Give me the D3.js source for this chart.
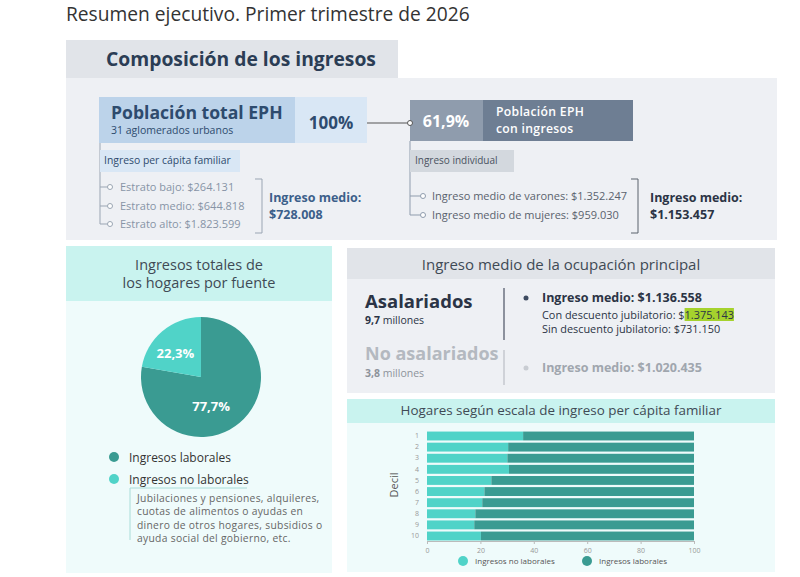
<!DOCTYPE html>
<html>
<head>
<meta charset="utf-8">
<script src="https://cdn.jsdelivr.net/npm/d3@7"></script>
<style>
  body { margin: 0; background: #fff; }
  text { font-family: "Open Sans", sans-serif; }
</style>
</head>
<body>
<svg id="chart" width="800" height="577"></svg>
<script>
// datos
var fuentes = ["Ingresos laborales", "Ingresos no laborales"];
var fuentePct = [77.7, 22.3];
var deciles = ["1", "2", "3", "4", "5", "6", "7", "8", "9", "10"];
var noLaborales = [36.0, 30.4, 30.1, 30.7, 24.1, 21.5, 20.7, 18.1, 17.7, 20.2];
var laborales = [64.0, 69.6, 69.9, 69.3, 75.9, 78.5, 79.3, 81.9, 82.3, 79.8];
var xTicks = [0, 20, 40, 60, 80, 100];
var estratos = ["Estrato bajo: $264.131", "Estrato medio: $644.818", "Estrato alto: $1.823.599"];
var individuales = ["Ingreso medio de varones: $1.352.247", "Ingreso medio de mujeres: $959.030"];
var notaNoLaborales = ["Jubilaciones y pensiones, alquileres,", "cuotas de alimentos o ayudas en",
  "dinero de otros hogares,  subsidios o", "ayuda social del gobierno, etc."];

var dark = "#3a9b92", light = "#50d3c8";

var svg = d3.select("#chart");

function box(x, y, w, h, fill) {
  return svg.append("rect").attr("x", x).attr("y", y).attr("width", w).attr("height", h).attr("fill", fill);
}
function label(x, y, txt, size, color, weight, anchor) {
  return svg.append("text").attr("x", x).attr("y", y).text(txt)
    .attr("font-size", size).attr("fill", color)
    .attr("font-weight", weight || 400)
    .attr("text-anchor", anchor || "start");
}
function line(x1, y1, x2, y2, color, w) {
  return svg.append("line").attr("x1", x1).attr("y1", y1).attr("x2", x2).attr("y2", y2)
    .attr("stroke", color).attr("stroke-width", w || 1);
}
function dot(x, y, color) {
  return svg.append("circle").attr("cx", x).attr("cy", y).attr("r", 2.5)
    .attr("fill", "#fff").attr("stroke", color).attr("stroke-width", 1);
}
function bracket(x, y1, y2, color) {
  svg.append("path").attr("d", `M${x - 7},${y1}H${x}V${y2}H${x - 7}`)
    .attr("fill", "none").attr("stroke", color).attr("stroke-width", 1);
}

// titulo
label(66, 21, "Resumen ejecutivo. Primer trimestre de 2026", 19.2, "#333", 400);

// --- Composicion de los ingresos
box(66, 78, 711, 162, "#eef0f4");
box(66, 40, 332, 38, "#e1e4e9");
label(241, 66, "Composición de los ingresos", 19.3, "#2b3d55", 700, "middle");

box(99, 97, 196, 46, "#bcd3ea");
box(295, 97, 72, 46, "#d9e7f5");
label(111, 119, "Población total EPH", 17.6, "#2e4b6e", 700);
label(111, 134, "31 aglomerados urbanos", 10.5, "#2e4b6e", 400);
label(331, 129, "100%", 17, "#2e4b6e", 700, "middle");

line(367, 123, 407, 123, "#555");

line(100, 143, 100, 224, "#9aa5b3");
box(100, 150, 140, 22, "#d9e7f5");
label(104, 164, "Ingreso per cápita familiar", 10.4, "#2e4b6e", 400);
var estY = [187, 206, 224];
estratos.forEach(function(t, i) {
  line(100, estY[i], 107.5, estY[i], "#9aa5b3");
  dot(110, estY[i], "#9aa5b3");
  label(120, estY[i] + 4, t, 11, "#8794a6", 400);
});
bracket(262, 179, 233, "#9aa5b3");
label(269, 202, "Ingreso medio:", 12.5, "#3c5f8a", 700);
label(269, 219, "$728.008", 12.5, "#3c5f8a", 700);

box(410, 100, 73, 41, "#8f9cad");
box(483, 100, 150, 41, "#6e7e93");
dot(410, 123, "#555");
label(446, 127, "61,9%", 16, "#fff", 700, "middle");
label(496, 116, "Población EPH", 12.2, "#fff", 600).attr("letter-spacing", 0.3);
label(496, 132.5, "con ingresos", 12.2, "#fff", 600).attr("letter-spacing", 0.3);

line(410, 141, 410, 215, "#8f9cad");
box(410, 150, 104, 22, "#d3d8de");
label(415, 164, "Ingreso individual", 10, "#4a5260", 400);
var indY = [196, 215];
individuales.forEach(function(t, i) {
  line(410, indY[i], 420.5, indY[i], "#8f9cad");
  dot(423, indY[i], "#8f9cad");
  label(432, indY[i] + 4, t, 11, "#5a626d", 400);
});
bracket(638, 179, 233, "#5a626d");
label(650, 202, "Ingreso medio:", 12.5, "#2b3445", 700);
label(650, 219, "$1.153.457", 12.5, "#2b3445", 700);

// --- Ingresos totales por fuente (torta)
box(66, 246, 266, 327, "#effbfb");
box(66, 246, 266, 55, "#c9f3ef");
label(199, 270, "Ingresos totales de", 14.5, "#3f4a55", 400, "middle");
label(199, 288, "los hogares por fuente", 14.5, "#3f4a55", 400, "middle");

var pie = d3.pie().sort(null).value(function(d) { return d; });
var arc = d3.arc().innerRadius(0).outerRadius(60);
// ubicacion de las etiquetas: radio y giro propio de cada porcion
var labelRadius = [31, 35];
var labelTurn = [0.37, -0.12];
var pieG = svg.append("g").attr("transform", "translate(201,377)");
var slices = pie(fuentePct);
pieG.selectAll("path").data(slices).enter().append("path")
  .attr("d", arc)
  .attr("fill", function(d, i) { return i === 0 ? dark : light; });
pieG.selectAll("text").data(slices).enter().append("text")
  .attr("transform", function(d, i) {
    var a = (d.startAngle + d.endAngle) / 2 + labelTurn[i];
    var c = d3.arc().innerRadius(labelRadius[i]).outerRadius(labelRadius[i])
      .centroid({ startAngle: a, endAngle: a });
    return "translate(" + c + ")";
  })
  .attr("dy", "0.35em")
  .attr("text-anchor", "middle")
  .attr("font-size", 13).attr("font-weight", 700).attr("fill", "#fff")
  .text(function(d) { return String(d.value).replace(".", ",") + "%"; });

var legY = [457, 479];
fuentes.forEach(function(f, i) {
  svg.append("circle").attr("cx", 114).attr("cy", legY[i]).attr("r", 5).attr("fill", i === 0 ? dark : light);
  label(129, legY[i] + 4.5, f, 12, "#333", 500);
});
line(130, 488, 247, 488, "#a9dcd8");
line(130, 488, 130, 540, "#a9dcd8");
notaNoLaborales.forEach(function(t, i) {
  label(137, 502 + i * 13.3, t, 10.3, "#666", 400).attr("letter-spacing", 0.3);
});

// --- Ingreso medio de la ocupacion principal
box(347, 248, 428, 145, "#eef0f4");
box(347, 248, 428, 31, "#e1e4e9");
label(561, 270, "Ingreso medio de la ocupación principal", 15, "#3f4a55", 400, "middle");

label(365, 308, "Asalariados", 18.5, "#2b3445", 700);
svg.append("text").attr("x", 365).attr("y", 324).attr("font-size", 10.5).attr("fill", "#2b3445")
  .call(function(t) {
    t.append("tspan").attr("font-weight", 700).text("9,7");
    t.append("tspan").text(" millones");
  });
line(504, 288, 504, 340, "#6b7280", 1.5);
svg.append("circle").attr("cx", 526).attr("cy", 298).attr("r", 2.5).attr("fill", "#3d4a60");
label(542, 302, "Ingreso medio: $1.136.558", 12.5, "#2b3445", 700);

var highlight = svg.append("rect").attr("fill", "#a5d22d");
var conDesc = svg.append("text").attr("x", 542).attr("y", 319).attr("font-size", 10.9).attr("fill", "#2b3445");
conDesc.append("tspan").text("Con descuento jubilatorio: $");
var hl = conDesc.append("tspan").text("1.375.143");
var bb = hl.node().getBBox();
highlight.attr("x", bb.x).attr("y", bb.y + 1).attr("width", bb.width).attr("height", bb.height - 2);
label(542, 333, "Sin descuento jubilatorio: $731.150", 10.9, "#2b3445", 400);

label(365, 360, "No asalariados", 18, "#b4b9c0", 700);
svg.append("text").attr("x", 365).attr("y", 377).attr("font-size", 10.5).attr("fill", "#8d939b")
  .call(function(t) {
    t.append("tspan").attr("font-weight", 700).text("3,8");
    t.append("tspan").text(" millones");
  });
line(504, 350, 504, 385, "#c5c9cf", 1.5);
svg.append("circle").attr("cx", 526).attr("cy", 368).attr("r", 2.5).attr("fill", "#c8ccd2");
label(542, 372, "Ingreso medio: $1.020.435", 12.5, "#a0a6ae", 700);

// --- Hogares segun escala de ingreso (barras apiladas)
box(347, 399, 428, 173, "#effbfb");
box(347, 399, 428, 24, "#c9f3ef");
label(561, 415, "Hogares según escala de ingreso per cápita familiar", 13.4, "#3f4a55", 400, "middle");

var x = d3.scaleLinear().domain([0, 100]).range([427, 694]);
var y = d3.scaleBand().domain(deciles).range([431, 541]).paddingInner(0.2).paddingOuter(0.05);

var barData = deciles.map(function(d, i) { return { decil: d, no: noLaborales[i], lab: laborales[i] }; });
var bars = svg.append("g");
bars.selectAll(".no").data(barData).enter().append("rect")
  .attr("x", x(0)).attr("y", function(d) { return y(d.decil); })
  .attr("width", function(d) { return x(d.no) - x(0); })
  .attr("height", y.bandwidth()).attr("fill", light);
bars.selectAll(".lab").data(barData).enter().append("rect")
  .attr("x", function(d) { return x(d.no); }).attr("y", function(d) { return y(d.decil); })
  .attr("width", function(d) { return x(d.no + d.lab) - x(d.no); })
  .attr("height", y.bandwidth()).attr("fill", dark);

var xAxis = svg.append("g").attr("transform", "translate(0,541)")
  .call(d3.axisBottom(x).tickValues(xTicks).tickSize(3).tickPadding(4));
xAxis.selectAll("text").attr("font-size", 7).attr("fill", "#999").attr("font-family", "Open Sans");
xAxis.selectAll("line, path").attr("stroke", "#bbb");

var yAxis = svg.append("g").attr("transform", "translate(427,0)")
  .call(d3.axisLeft(y).tickSize(0).tickPadding(8));
yAxis.select(".domain").remove();
yAxis.selectAll("text").attr("font-size", 7).attr("fill", "#999").attr("font-family", "Open Sans");

svg.append("text").attr("transform", "translate(398,485) rotate(-90)")
  .attr("text-anchor", "middle").attr("font-size", 11).attr("fill", "#555").text("Decil");

var barLeg = [{ t: "Ingresos no laborales", c: light, x: 463 }, { t: "Ingresos laborales", c: dark, x: 587 }];
barLeg.forEach(function(l) {
  svg.append("circle").attr("cx", l.x).attr("cy", 561).attr("r", 5).attr("fill", l.c);
  label(l.x + 12, 564, l.t, 8, "#555", 400);
});
</script>
</body>
</html>
